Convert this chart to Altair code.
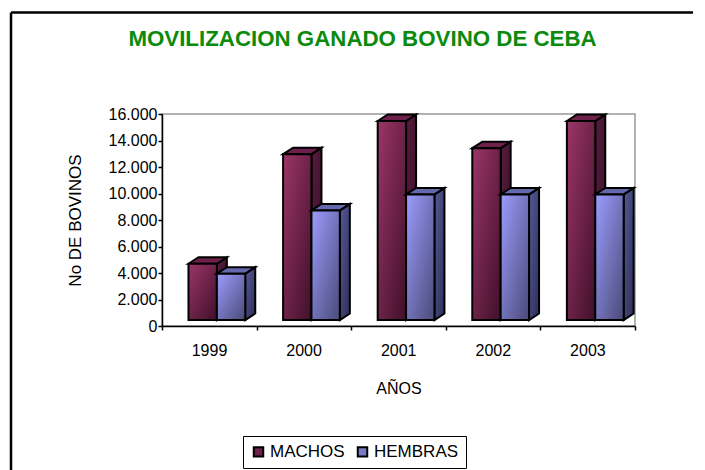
import altair as alt
import pandas as pd

years = ["1999", "2000", "2001", "2002", "2003"]
machos = [4700, 12970, 15470, 13420, 15470]
hembras = [3950, 8720, 9930, 9930, 9930]
series_names = ["MACHOS", "HEMBRAS"]
y_ticks = [0, 2000, 4000, 6000, 8000, 10000, 12000, 14000, 16000]
x_ticks = [0, 1, 2, 3, 4, 5]

PW, PH = 473, 212
YMAX = 16000
BASE = 450            # floor of the recessed bars, in axis units
DX = 10 / PW * 5      # 3-D depth in category units
DY = 6.5 / PH * YMAX  # 3-D depth in axis units
BAR_START = 0.28
BAR_W = 0.30
FONT = "Liberation Sans"

front_rows, top_rows, side_rows = [], [], []
for i, yr in enumerate(years):
    for s, (name, val) in enumerate(zip(series_names, (machos[i], hembras[i]))):
        x0 = i + BAR_START + s * BAR_W
        x1 = x0 + BAR_W
        front_rows.append(dict(year=yr, serie=name, x0=x0, x1=x1, val=val, base=BASE))
        key = f"{yr}-{name}"
        top_rows += [
            dict(key=key, serie=name, x=x0, hi=val, lo=val),
            dict(key=key, serie=name, x=x0 + DX, hi=val + DY, lo=val),
            dict(key=key, serie=name, x=x1, hi=val + DY, lo=val),
            dict(key=key, serie=name, x=x1 + DX, hi=val + DY, lo=val + DY),
        ]
        side_rows += [
            dict(key=key, serie=name, x=x1, hi=val, lo=BASE),
            dict(key=key, serie=name, x=x1 + DX, hi=val + DY, lo=BASE + DY),
        ]
front = pd.DataFrame(front_rows)
top = pd.DataFrame(top_rows)
side = pd.DataFrame(side_rows)

xs = alt.Scale(domain=[0, 5], nice=False, zero=False)
ys = alt.Scale(domain=[0, YMAX], nice=False)

x_axis = alt.Axis(
    values=x_ticks, grid=False, labelOffset=47, labelFlush=False,
    labelOverlap=False, labelBound=False,
    labelExpr="datum.value < 5 ? '' + (1999 + datum.value) : ''",
    domainColor="black", tickColor="black", tickSize=4, domainWidth=1.5, tickWidth=1.5,
    labelFont=FONT, labelFontSize=16, labelColor="black", labelPadding=12,
    titleFont=FONT, titleFontSize=16, titleFontWeight="normal", titleColor="black",
    titlePadding=22,
)
y_axis = alt.Axis(
    values=y_ticks, grid=False, labelOverlap=False,
    labelFlush=False, labelBound=False,
    labelExpr="replace(format(datum.value, ','), ',', '.')",
    domainColor="black", tickColor="black", tickSize=4, domainWidth=1.5, tickWidth=1.5,
    labelFont=FONT, labelFontSize=16, labelColor="black", labelPadding=1,
    titleFont=FONT, titleFontSize=17, titleFontWeight="normal", titleColor="black",
    titlePadding=24,
)
X_TITLE, Y_TITLE = "AÑOS", "No DE BOVINOS"


def grad(c1, c2):
    return alt.Gradient(
        gradient="linear", x1=0, y1=0, x2=1, y2=1,
        stops=[alt.GradientStop(offset=0, color=c1), alt.GradientStop(offset=1, color=c2)],
    )


FILLS = {
    "MACHOS": dict(front=("#9c3568", "#3f1029"), side=("#551c3c", "#3a0f2a"), top="#6d2049"),
    "HEMBRAS": dict(front=("#9c9cff", "#4a4a78"), side=("#555a98", "#2e2e58"), top="#6468ac"),
}

one = pd.DataFrame({"a": [0]})
frame_top = alt.Chart(one).mark_rule(color="black", strokeWidth=2.5).encode(
    x=alt.value(-151), x2=alt.value(531), y=alt.value(-101.5)
)
frame_left = alt.Chart(one).mark_rule(color="black", strokeWidth=2.5).encode(
    x=alt.value(-151), y=alt.value(-101.5), y2=alt.value(356)
)

# Layer that carries the legend
legend_layer = alt.Chart(front).mark_bar(stroke=None).encode(
    x=alt.X("x0:Q", scale=xs, title=X_TITLE, axis=x_axis),
    x2="x1:Q",
    y=alt.Y("val:Q", scale=ys, title=Y_TITLE, axis=y_axis),
    y2="base:Q",
    color=alt.Color(
        "serie:N",
        scale=alt.Scale(domain=series_names, range=["#6d2049", "#7a7ac8"]),
        legend=alt.Legend(
            title=None, orient="none", legendX=81, legendY=322, direction="horizontal",
            columns=2, symbolType="square", symbolSize=90, symbolStrokeColor="black",
            symbolStrokeWidth=2, labelFont=FONT, labelFontSize=17, labelColor="black",
            strokeColor="black", fillColor="white", padding=7, columnPadding=8, labelOffset=3,
        ),
    ),
)

layers = [frame_top, frame_left, legend_layer]
for name in series_names:
    f = FILLS[name]
    layers.append(
        alt.Chart(side[side.serie == name]).mark_area(
            stroke="black", strokeWidth=2, color=grad(*f["side"])
        ).encode(
            x=alt.X("x:Q", scale=xs, title=X_TITLE, axis=x_axis),
            y=alt.Y("hi:Q", scale=ys, title=Y_TITLE, axis=y_axis),
            y2="lo:Q", detail="key:N",
        )
    )
    layers.append(
        alt.Chart(top[top.serie == name]).mark_area(
            stroke="black", strokeWidth=2, color=f["top"], clip=False
        ).encode(
            x=alt.X("x:Q", scale=xs, title=X_TITLE, axis=x_axis),
            y=alt.Y("hi:Q", scale=ys, title=Y_TITLE, axis=y_axis),
            y2="lo:Q", detail="key:N",
        )
    )
    layers.append(
        alt.Chart(front[front.serie == name]).mark_bar(
            stroke="black", strokeWidth=2, color=grad(*f["front"])
        ).encode(
            x=alt.X("x0:Q", scale=xs, title=X_TITLE, axis=x_axis), x2="x1:Q",
            y=alt.Y("val:Q", scale=ys, title=Y_TITLE, axis=y_axis), y2="base:Q",
        )
    )

chart = alt.layer(*layers).properties(
    width=PW, height=PH,
    title=alt.TitleParams(
        "MOVILIZACION GANADO BOVINO DE CEBA", font=FONT, fontSize=22.3,
        fontWeight="bold", color="#0b8a0b", anchor="middle", offset=-39, dx=-36,
    ),
    padding={"left": 154, "top": 106, "right": 58, "bottom": 144},
    autosize=alt.AutoSizeParams(type="none"),
).configure_view(stroke="#999999", strokeWidth=1.5).resolve_scale(x="shared", y="shared")

chart.save("out.html", embed_options={"renderer": "svg", "actions": False})
